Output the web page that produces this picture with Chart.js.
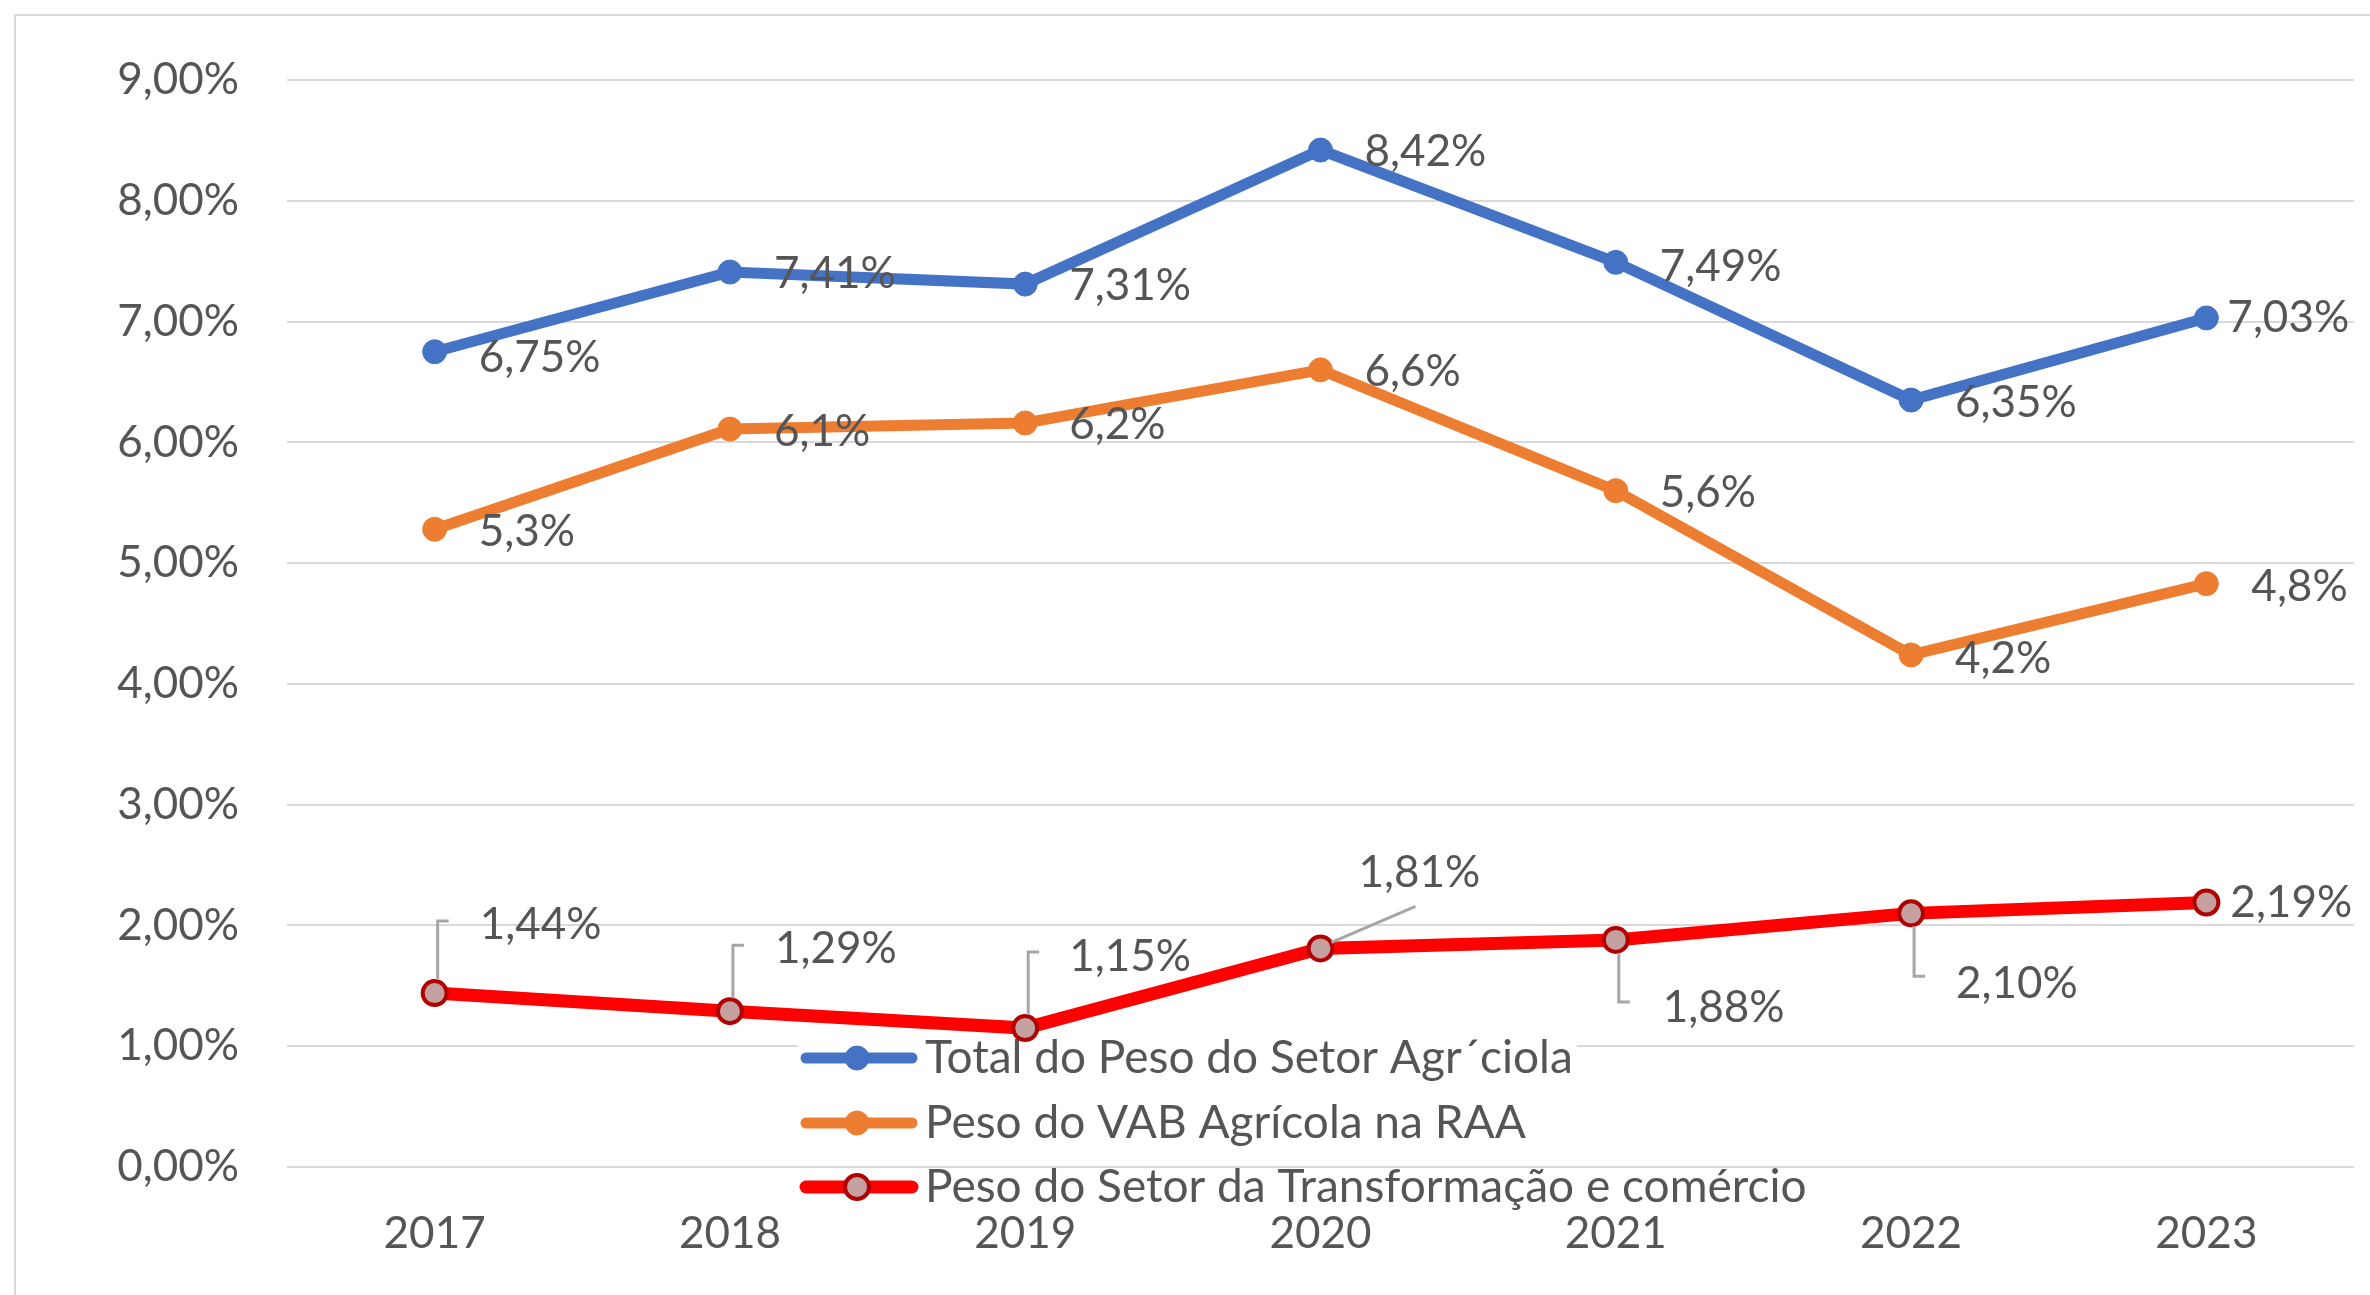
<!DOCTYPE html>
<html>
<head>
<meta charset="utf-8">
<script src="https://cdn.jsdelivr.net/npm/chart.js@4.4.0/dist/chart.umd.min.js"></script>
<style>
    html, body { margin: 0; padding: 0; background: #fff; }
    #wrap { position: relative; width: 2370px; height: 1295px; overflow: hidden; background: #fff; }
    #frame { position: absolute; left: 14px; top: 14px; width: 2400px; height: 1400px; border: 2px solid #d9d9d9; box-sizing: border-box; }
    #chart { position: absolute; left: 0; top: 0; }
</style>
</head>
<body>
<div id="wrap">
    <div id="frame"></div>
    <canvas id="chart" width="2370" height="1295"></canvas>
</div>
<script>
// dados
const years = ['2017', '2018', '2019', '2020', '2021', '2022', '2023'];
const totalAgricola = [6.75, 7.41, 7.31, 8.42, 7.49, 6.35, 7.03];
const vabAgricola = [5.28, 6.11, 6.16, 6.6, 5.6, 4.24, 4.83];
const transformacao = [1.44, 1.29, 1.15, 1.81, 1.88, 2.10, 2.19];
const seriesNames = [
    'Total do Peso do Setor Agr\u00b4ciola',
    'Peso do VAB Agrícola na RAA',
    'Peso do Setor da Transformação e comércio'
];
const labelDecimals = [2, 1, 2];
const yMin = 0, yMax = 9, yStep = 1;

// estilo
const FONT = '44px Lato';
const LEGEND_FONT = '46px Lato';
const TEXT = '#555555';
const GRID = '#d9d9d9';
const LEADER = '#a6a6a6';

// posição das etiquetas relativamente ao ponto
const labelOffsets = [
    [{dx: 44, dy: 6}, {dx: 44, dy: 2}, {dx: 44, dy: 2}, {dx: 44, dy: 2}, {dx: 44, dy: 4}, {dx: 44, dy: 3}, {dx: 21, dy: 0}],
    [{dx: 44, dy: 3}, {dx: 44, dy: 3}, {dx: 44, dy: 2}, {dx: 44, dy: 2}, {dx: 44, dy: 2}, {dx: 44, dy: 4}, {dx: 45, dy: 3}],
    [
        {dx: 45, dy: -68, leader: 'elbow', ly: -72},
        {dx: 45, dy: -62, leader: 'elbow', ly: -66},
        {dx: 44, dy: -71, leader: 'elbow', ly: -76},
        {dx: 38, dy: -76, leader: 'diag', lx: 95, ly: -42},
        {dx: 47, dy: 68, leader: 'elbow', ly: 62},
        {dx: 45, dy: 70, leader: 'elbow', ly: 63},
        {dx: 24, dy: 0}
    ]
];

function fmt(v, d) {
    return v.toFixed(d).replace('.', ',') + '%';
}

const pointLabels = {
    id: 'pointLabels',
    afterDatasetsDraw(chart) {
        const ctx = chart.ctx;
        ctx.save();
        ctx.font = FONT;
        ctx.textAlign = 'left';
        ctx.textBaseline = 'middle';
        chart.data.datasets.forEach((ds, di) => {
            const meta = chart.getDatasetMeta(di);
            meta.data.forEach((pt, i) => {
                const o = labelOffsets[di][i];
                const x = pt.x, y = pt.y;
                if (o.leader) {
                    ctx.strokeStyle = LEADER;
                    ctx.lineWidth = 3;
                    ctx.beginPath();
                    if (o.leader === 'elbow') {
                        const r = o.ly < 0 ? -13 : 13;
                        ctx.moveTo(x + 3, y + r);
                        ctx.lineTo(x + 3, y + o.ly);
                        ctx.lineTo(x + 14, y + o.ly);
                    } else {
                        ctx.moveTo(x + 11, y - 6);
                        ctx.lineTo(x + o.lx, y + o.ly);
                    }
                    ctx.stroke();
                }
                ctx.fillStyle = TEXT;
                ctx.fillText(fmt(ds.data[i], labelDecimals[di]), x + o.dx, y + o.dy);
            });
        });
        ctx.restore();
    }
};

// legenda desenhada dentro da área do gráfico
const innerLegend = {
    id: 'innerLegend',
    beforeDatasetsDraw(chart) {
        const ctx = chart.ctx;
        const rows = [1058, 1123, 1187];
        ctx.save();
        ctx.font = LEGEND_FONT;
        ctx.textAlign = 'left';
        ctx.textBaseline = 'middle';
        chart.data.datasets.forEach((ds, i) => {
            const y = rows[i];
            const w = ctx.measureText(ds.label).width;
            ctx.fillStyle = '#fff';
            ctx.fillRect(798, y - 16, 925 + w - 798 + 4, 38);
            ctx.strokeStyle = ds.borderColor;
            ctx.lineWidth = ds.borderWidth;
            ctx.lineCap = 'round';
            ctx.beginPath();
            ctx.moveTo(806, y);
            ctx.lineTo(912, y);
            ctx.stroke();
            ctx.beginPath();
            ctx.arc(857, y, ds.pointRadius, 0, Math.PI * 2);
            ctx.fillStyle = ds.pointBackgroundColor;
            ctx.fill();
            ctx.lineWidth = ds.pointBorderWidth;
            ctx.strokeStyle = ds.pointBorderColor;
            ctx.stroke();
            ctx.fillStyle = TEXT;
            ctx.fillText(ds.label, 925, y);
        });
        ctx.restore();
    }
};

const ctx = document.getElementById('chart').getContext('2d');
new Chart(ctx, {
    type: 'line',
    data: {
        labels: years,
        datasets: [
            {
                label: seriesNames[0],
                data: totalAgricola,
                borderColor: '#4472c4',
                borderWidth: 11,
                pointRadius: 12,
                pointBackgroundColor: '#4472c4',
                pointBorderColor: '#4472c4',
                pointBorderWidth: 1
            },
            {
                label: seriesNames[1],
                data: vabAgricola,
                borderColor: '#ed7d31',
                borderWidth: 11,
                pointRadius: 12,
                pointBackgroundColor: '#ed7d31',
                pointBorderColor: '#ed7d31',
                pointBorderWidth: 1
            },
            {
                label: seriesNames[2],
                data: transformacao,
                borderColor: '#ff0000',
                borderWidth: 13,
                pointRadius: 12,
                pointBackgroundColor: '#c4a0a0',
                pointBorderColor: '#b00000',
                pointBorderWidth: 4
            }
        ]
    },
    options: {
        responsive: false,
        animation: false,
        layout: { padding: { left: 0, top: 80, right: 4, bottom: 0 } },
        plugins: {
            legend: { display: false },
            tooltip: { enabled: false }
        },
        scales: {
            x: {
                offset: true,
                grid: { display: false, drawTicks: false },
                border: { display: false },
                ticks: { color: TEXT, font: { family: 'Lato', size: 44 }, padding: 40 },
                afterFit: (s) => { s.height = 128; }
            },
            y: {
                min: yMin,
                max: yMax,
                grid: { color: GRID, lineWidth: 2, drawTicks: false },
                border: { display: false },
                ticks: {
                    stepSize: yStep,
                    color: TEXT,
                    font: { family: 'Lato', size: 44 },
                    padding: 48,
                    callback: (v) => fmt(v, 2)
                },
                afterFit: (s) => { s.width = 287; }
            }
        }
    },
    plugins: [innerLegend, pointLabels]
});
</script>
</body>
</html>
